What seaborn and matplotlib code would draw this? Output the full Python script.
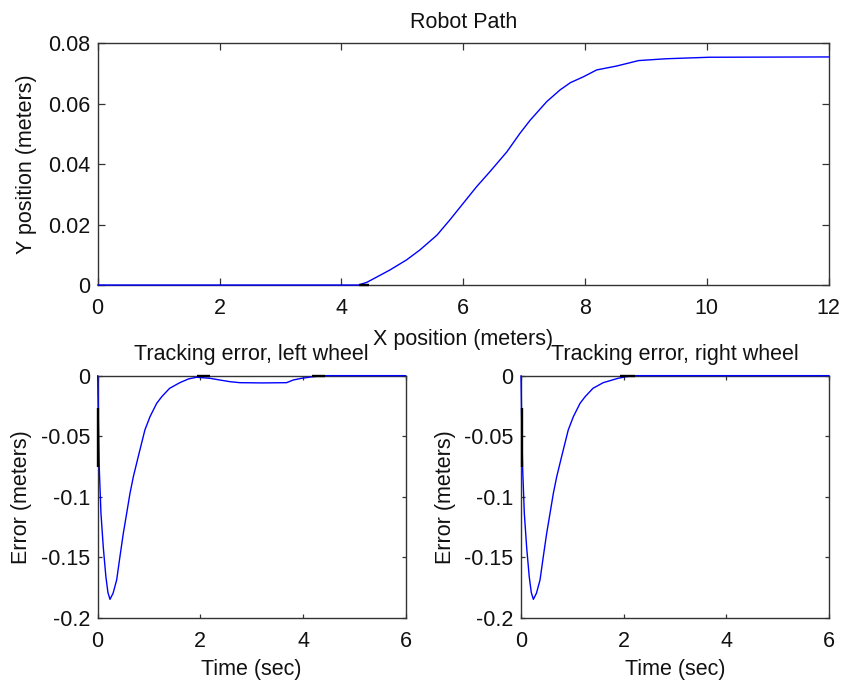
import matplotlib
matplotlib.use("Agg")
import matplotlib.pyplot as plt
import seaborn as sns

# robot path (top panel)
path_x = [0, 4.28, 4.42, 4.80, 5.07, 5.29, 5.57, 5.78, 6.0, 6.22, 6.44, 6.72,
          6.93, 7.10, 7.37, 7.59, 7.76, 7.98, 8.19, 8.52, 8.88, 9.33, 10.04, 12]
path_y = [0, 0, 0.0009, 0.005, 0.0083, 0.0116, 0.0165, 0.0215, 0.027,
          0.0325, 0.0375, 0.0441, 0.0501, 0.0545, 0.0606, 0.0645, 0.0669,
          0.0689, 0.0711, 0.0724, 0.0742, 0.0748, 0.0753, 0.0754]

# tracking error, left wheel
left_t = [0, 0.01, 0.03, 0.064, 0.11, 0.16, 0.20, 0.24, 0.30, 0.37, 0.435,
          0.50, 0.565, 0.63, 0.695, 0.79, 0.92, 1.02, 1.15, 1.25, 1.40, 1.60,
          1.77, 1.93, 2.19, 2.38, 2.58, 2.77, 3.2, 3.68, 3.81, 3.97, 4.2,
          4.46, 6]
left_e = [0, -0.03, -0.075, -0.1136, -0.142, -0.166, -0.179, -0.1846,
          -0.1796, -0.1686, -0.149, -0.130, -0.1136, -0.097, -0.0834,
          -0.0669, -0.0448, -0.0338, -0.0228, -0.0173, -0.0105, -0.0058,
          -0.0027, -0.0013, -0.0022, -0.0036, -0.005, -0.0058, -0.006,
          -0.0058, -0.0036, -0.0022, -0.0008, 0, 0]

# tracking error, right wheel
right_t = [0, 0.01, 0.03, 0.064, 0.11, 0.16, 0.20, 0.24, 0.30, 0.37, 0.435,
           0.50, 0.565, 0.63, 0.695, 0.79, 0.92, 1.02, 1.15, 1.25, 1.40,
           1.60, 1.89, 2.05, 2.25, 6]
right_e = [0, -0.03, -0.075, -0.1136, -0.142, -0.166, -0.179, -0.1846,
           -0.1796, -0.1686, -0.149, -0.130, -0.1136, -0.097, -0.0834,
           -0.0669, -0.0448, -0.0338, -0.0228, -0.0173, -0.0105, -0.0058,
           -0.0022, -0.0008, 0, 0]

# short black pieces that sit on top of the blue curves
path_black = [([4.29, 4.45], [0, 0])]
left_black = [([0.012, 0.012], [-0.027, -0.075]), ([1.93, 2.19], [0, 0]),
              ([4.17, 4.43], [0, 0])]
right_black = [([0.012, 0.012], [-0.027, -0.075]), ([1.93, 2.22], [0, 0])]

path_xticks = [0, 2, 4, 6, 8, 10, 12]
path_yticks = [0, 0.02, 0.04, 0.06, 0.08]
path_yticklabels = ["0", "0.02", "0.04", "0.06", "0.08"]
err_xticks = [0, 2, 4, 6]
err_yticks = [-0.2, -0.15, -0.1, -0.05, 0]
err_yticklabels = ["-0.2", "-0.15", "-0.1", "-0.05", "0"]

sns.set_theme(style="ticks")
plt.rcParams["font.family"] = ["Liberation Sans", "DejaVu Sans"]
plt.rcParams["axes.unicode_minus"] = False
plt.rcParams["text.color"] = "#111111"
plt.rcParams["axes.labelcolor"] = "#111111"

FS = 15.5
fig = plt.figure(figsize=(8.42, 6.83), dpi=100)
fig.patch.set_facecolor("white")


def style_axes(ax, ticklen):
    for sp in ax.spines.values():
        sp.set_visible(True)
        sp.set_color("#333333")
        sp.set_linewidth(1.0)
    ax.tick_params(direction="in", top=True, right=True, length=ticklen,
                   width=0.9, color="#333333", labelsize=FS, labelcolor="#111111")
    ax.tick_params(axis="x", pad=9.5)
    ax.tick_params(axis="y", pad=5.5)
    ax.set_facecolor("white")


def draw(ax, x, y, blacks):
    sns.lineplot(x=x, y=y, ax=ax, sort=False, estimator=None, color="#0000ff",
                 linewidth=1.0, zorder=3, clip_on=False)
    for bx, by in blacks:
        ax.plot(bx, by, color="black", linewidth=1.7, zorder=4, clip_on=False,
                solid_capstyle="butt")


ax_top = fig.add_axes([0.1160, 0.5827, 0.8682, 0.3543])
draw(ax_top, path_x, path_y, path_black)
ax_top.set_xlim(0, 12)
ax_top.set_ylim(0, 0.08)
ax_top.set_xticks(path_xticks)
ax_top.set_xticklabels([str(v) for v in path_xticks])
ax_top.set_yticks(path_yticks)
ax_top.set_yticklabels(path_yticklabels)
style_axes(ax_top, 5)
ax_top.set_title("Robot Path", fontsize=FS, pad=11)
ax_top.set_xlabel("X position (meters)", fontsize=FS, labelpad=7)
ax_top.set_ylabel("Y position (meters)", fontsize=FS, labelpad=8)

panels = [
    (0.1160, left_t, left_e, left_black, "Tracking error, left wheel"),
    (0.6188, right_t, right_e, right_black, "Tracking error, right wheel"),
]
for left, t, e, blacks, title in panels:
    ax = fig.add_axes([left, 0.0952, 0.3658, 0.3548])
    draw(ax, t, e, blacks)
    ax.set_xlim(0, 6)
    ax.set_ylim(-0.2, 0)
    ax.set_xticks(err_xticks)
    ax.set_xticklabels([str(v) for v in err_xticks])
    ax.set_yticks(err_yticks)
    ax.set_yticklabels(err_yticklabels)
    style_axes(ax, 3)
    ax.set_title(title, fontsize=FS, pad=11)
    ax.set_xlabel("Time (sec)", fontsize=FS, labelpad=5)
    ax.set_ylabel("Error (meters)", fontsize=FS, labelpad=6)

fig.savefig("out.png", dpi=100, facecolor="white")
